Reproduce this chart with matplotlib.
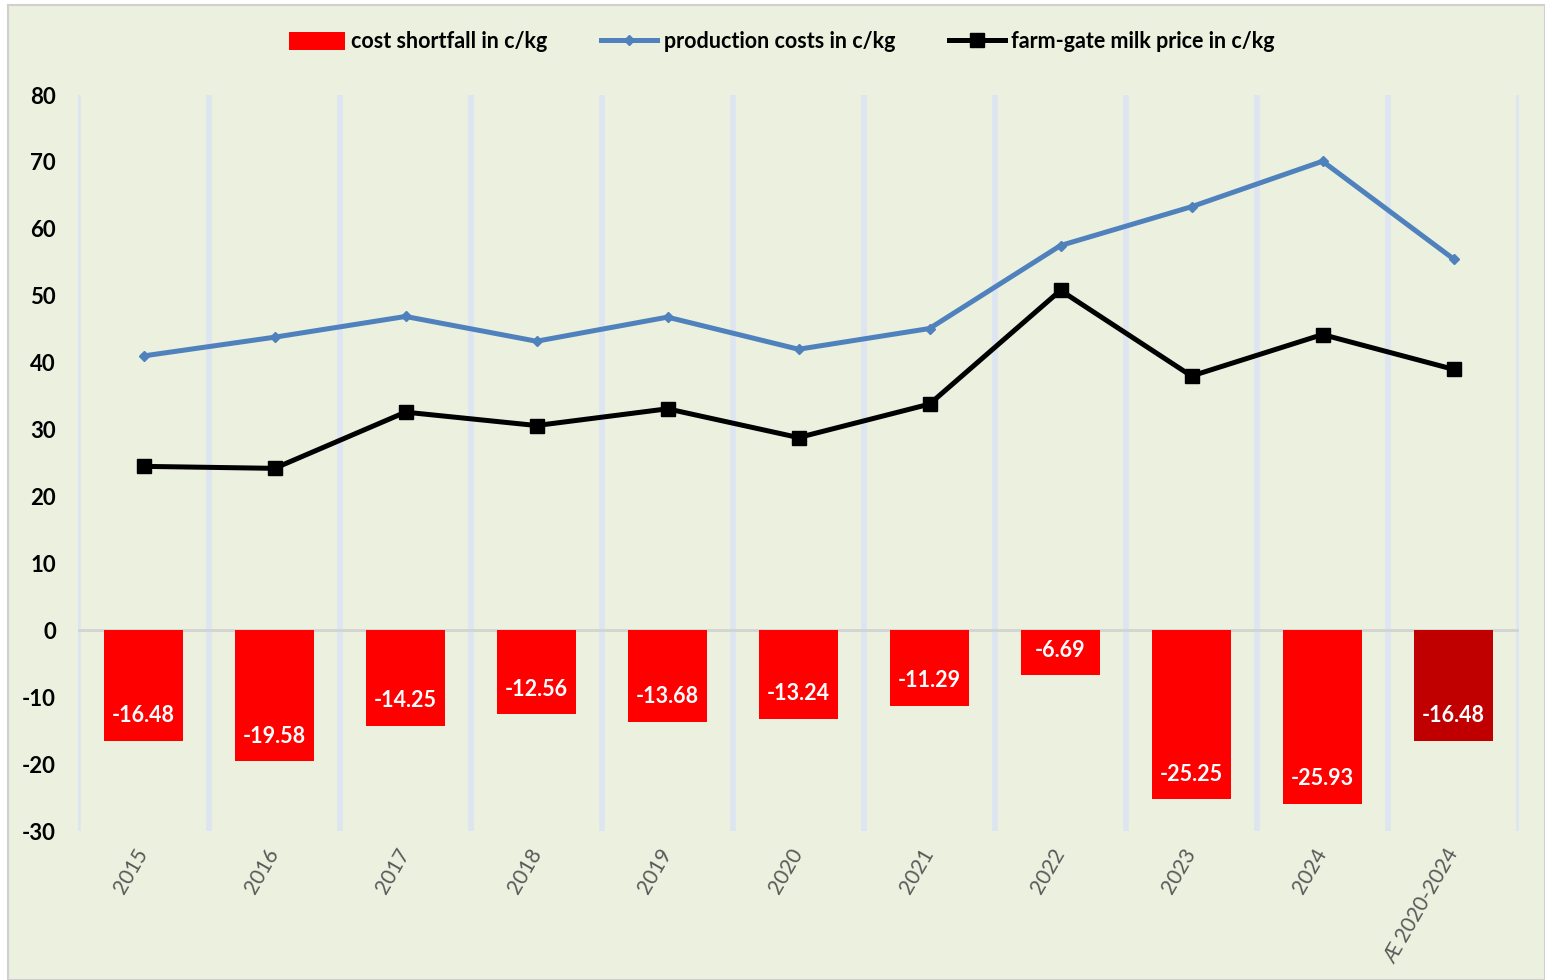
import matplotlib
matplotlib.use("Agg")
import matplotlib.pyplot as plt
from matplotlib.patches import Rectangle
from matplotlib.lines import Line2D
from matplotlib.patches import Patch

categories = ["2015", "2016", "2017", "2018", "2019", "2020", "2021", "2022",
              "2023", "2024", "Æ 2020-2024"]
shortfall = [-16.48, -19.58, -14.25, -12.56, -13.68, -13.24, -11.29, -6.69,
             -25.25, -25.93, -16.48]
production_costs = [41.0, 43.8, 46.9, 43.2, 46.8, 42.0, 45.1, 57.5, 63.3, 70.1, 55.5]
milk_price = [24.5, 24.2, 32.6, 30.6, 33.1, 28.8, 33.8, 50.8, 38.0, 44.2, 39.0]
yticks = [80, 70, 60, 50, 40, 30, 20, 10, 0, -10, -20, -30]

plt.rcParams['font.family'] = ['Lato', 'DejaVu Sans']

W, H = 1545, 980
fig = plt.figure(figsize=(W / 100, H / 100), dpi=100, facecolor='white')
bg = '#EBF0DF'
fig.patches.append(Rectangle((8 / W, 0), 1 - 8 / W, 1 - 5 / H, transform=fig.transFigure,
                             facecolor=bg, edgecolor='#D0D0D0', linewidth=1.5, zorder=-10))

ax = fig.add_axes([78 / W, 1 - 831 / H, (1519 - 78) / W, (831 - 95) / H])
ax.set_facecolor('none')
for s in ax.spines.values():
    s.set_visible(False)

x = list(range(len(categories)))
for k in range(-1, len(categories)):
    ax.axvline(k + 0.5, color='#DCE5F1', linewidth=4, zorder=1)
ax.axhline(0, color='#D3D3D3', linewidth=2, zorder=2)

colors = ['#FF0000'] * (len(categories) - 1) + ['#C00000']
bars = ax.bar(x, shortfall, width=0.6, color=colors, zorder=3)
for xi, v in zip(x, shortfall):
    ax.annotate(f"{v:.2f}", (xi, v), xytext=(0, 18), textcoords='offset points',
                ha='center', va='center', color='white', fontsize=15.5, fontweight='bold',
                zorder=6)

ax.plot(x, production_costs, color='#4F81BD', linewidth=3.6, marker='D', markersize=5,
        zorder=4)
ax.plot(x, milk_price, color='black', linewidth=3.6, marker='s', markersize=10, zorder=5)

ax.set_xlim(-0.5, len(categories) - 0.5)
ax.set_ylim(-30, 80)
ax.set_yticks(yticks)
ax.set_yticklabels([str(t) for t in yticks], fontsize=16, fontweight='bold', color='black')
ax.tick_params(axis='y', length=0, pad=16)
ax.set_xticks(x)
ax.set_xticklabels(categories, rotation=60, ha='right', va='center',
                   rotation_mode='anchor', fontsize=15, color='#595959')
ax.tick_params(axis='x', length=0, pad=14)

handles = [
    Patch(facecolor='#FF0000', edgecolor='none'),
    Line2D([], [], color='#4F81BD', linewidth=3.6, marker='D', markersize=5),
    Line2D([], [], color='black', linewidth=3.6, marker='s', markersize=10),
]
labels = ["cost shortfall in c/kg", "production costs in c/kg", "farm-gate milk price in c/kg"]
fig.legend(handles, labels, loc='center', bbox_to_anchor=(0.506, 1 - 42 / H), ncol=3,
           frameon=False, prop={'size': 15.5, 'weight': 'bold'}, handlelength=2.6,
           handleheight=0.9, handletextpad=0.3, columnspacing=2.5)

fig.savefig('out.png', dpi=100, facecolor='white')
